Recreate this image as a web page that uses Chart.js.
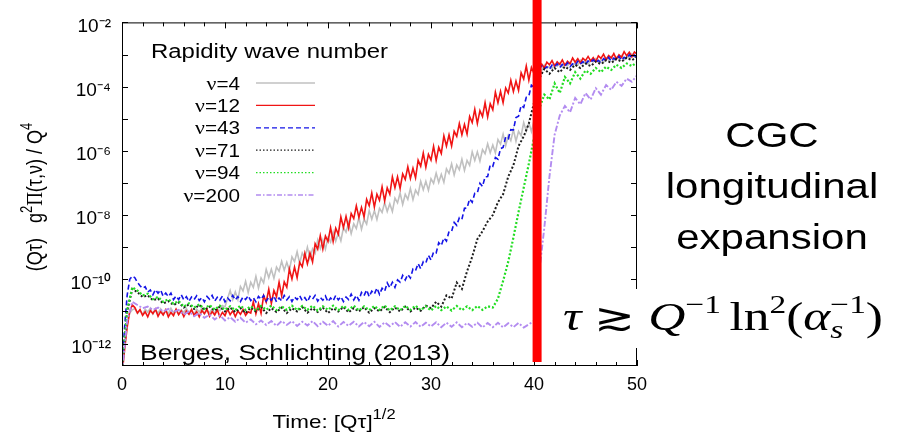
<!DOCTYPE html>
<html><head><meta charset="utf-8">
<script src="https://cdn.jsdelivr.net/npm/chart.js@4"></script>
<style>html,body{margin:0;padding:0;background:#fff;}canvas{display:block}</style>
</head><body>
<canvas id="c" width="898" height="436"></canvas>
<script>
// time axis [Q tau]^(1/2): fine sampling (used for nu=4, 12, 43)
const tauFine = [0,0.25,0.5,0.75,1,1.25,1.5,1.75,2,2.25,
 2.5,2.75,3,3.25,3.5,3.75,4,4.25,4.5,4.75,
 5,5.25,5.5,5.75,6,6.25,6.5,6.75,7,7.25,
 7.5,7.75,8,8.25,8.5,8.75,9,9.25,9.5,9.75,
 10,10.25,10.5,10.75,11,11.25,11.5,11.75,12,12.25,
 12.5,12.75,13,13.25,13.5,13.75,14,14.25,14.5,14.75,
 15,15.25,15.5,15.75,16,16.25,16.5,16.75,17,17.25,
 17.5,17.75,18,18.25,18.5,18.75,19,19.25,19.5,19.75,
 20,20.25,20.5,20.75,21,21.25,21.5,21.75,22,22.25,
 22.5,22.75,23,23.25,23.5,23.75,24,24.25,24.5,24.75,
 25,25.25,25.5,25.75,26,26.25,26.5,26.75,27,27.25,
 27.5,27.75,28,28.25,28.5,28.75,29,29.25,29.5,29.75,
 30,30.25,30.5,30.75,31,31.25,31.5,31.75,32,32.25,
 32.5,32.75,33,33.25,33.5,33.75,34,34.25,34.5,34.75,
 35,35.25,35.5,35.75,36,36.25,36.5,36.75,37,37.25,
 37.5,37.75,38,38.25,38.5,38.75,39,39.25,39.5,39.75,
 40,40.25,40.5,40.75,41,41.25,41.5,41.75,42,42.25,
 42.5,42.75,43,43.25,43.5,43.75,44,44.25,44.5,44.75,
 45,45.25,45.5,45.75,46,46.25,46.5,46.75,47,47.25,
 47.5,47.75,48,48.25,48.5,48.75,49,49.25,49.5,49.75,
 50];
// coarser sampling (used for nu=71, 94, 200)
const tau = [0,0.5,1,1.5,2,2.5,3,3.5,4,4.5,
 5,5.5,6,6.5,7,7.5,8,8.5,9,9.5,
 10,10.5,11,11.5,12,12.5,13,13.5,14,14.5,
 15,15.5,16,16.5,17,17.5,18,18.5,19,19.5,
 20,20.5,21,21.5,22,22.5,23,23.5,24,24.5,
 25,25.5,26,26.5,27,27.5,28,28.5,29,29.5,
 30,30.5,31,31.5,32,32.5,33,33.5,34,34.5,
 35,35.5,36,36.5,37,37.5,38,38.5,39,39.5,
 40,40.5,41,41.5,42,42.5,43,43.5,44,44.5,
 45,45.5,46,46.5,47,47.5,48,48.5,49,49.5,50];

// log10 of (Q tau) g^2 Pi(tau,nu) / Q^4
const nu4Log = [-12.9,-12.0,-11.4,-11.05,-10.95,-10.91,-11.06,-10.97,-11.10,-10.93,
 -11.02,-10.90,-11.08,-10.96,-11.05,-10.92,-11.10,-10.98,-11.07,-10.90,
 -11.04,-10.94,-11.09,-10.95,-11.03,-10.91,-11.06,-10.97,-11.10,-10.93,
 -11.02,-10.90,-11.08,-10.96,-11.05,-10.92,-11.06,-10.94,-10.98,-10.82,
 -10.86,-10.60,-10.35,-10.63,-10.39,-10.63,-10.22,-10.36,-10.06,-10.41,
 -10.09,-10.25,-9.91,-10.27,-9.96,-10.11,-9.69,-9.95,-9.69,-9.97,
 -9.62,-9.75,-9.44,-9.72,-9.47,-9.72,-9.30,-9.45,-9.14,-9.50,
 -9.18,-9.33,-9.00,-9.35,-9.05,-9.19,-8.78,-9.04,-8.77,-9.06,
 -8.70,-8.84,-8.52,-8.81,-8.56,-8.80,-8.39,-8.53,-8.23,-8.58,
 -8.27,-8.42,-8.08,-8.44,-8.13,-8.28,-7.86,-8.13,-7.86,-8.14,
 -7.79,-7.92,-7.61,-7.89,-7.65,-7.89,-7.47,-7.62,-7.31,-7.67,
 -7.35,-7.51,-7.17,-7.52,-7.22,-7.36,-6.95,-7.21,-6.95,-7.23,
 -6.87,-7.01,-6.69,-6.98,-6.73,-6.98,-6.56,-6.70,-6.40,-6.75,
 -6.44,-6.59,-6.26,-6.61,-6.30,-6.45,-6.03,-6.30,-6.03,-6.32,
 -5.96,-6.09,-5.78,-6.06,-5.82,-6.06,-5.65,-5.79,-5.48,-5.84,
 -5.52,-5.68,-5.34,-5.70,-5.39,-5.53,-5.12,-5.38,-5.12,-5.40,
 -5.05,-4.6,-3.9,-3.5,-3.33,-3.44,-3.36,-3.45,-3.30,-3.37,
 -3.26,-3.39,-3.29,-3.35,-3.24,-3.37,-3.26,-3.33,-3.18,-3.28,
 -3.19,-3.30,-3.18,-3.23,-3.13,-3.24,-3.16,-3.25,-3.10,-3.17,
 -3.06,-3.19,-3.09,-3.15,-3.04,-3.17,-3.06,-3.13,-2.98,-3.08,
 -2.99];
const nu12Log = [-13.0,-12.2,-11.5,-11.0,-10.8,-10.88,-11.05,-10.94,-11.12,-11.01,
 -11.17,-10.97,-11.07,-10.93,-11.15,-11.00,-11.11,-10.95,-11.17,-11.03,
 -11.13,-10.93,-11.10,-10.98,-11.16,-10.99,-11.09,-10.94,-11.12,-11.01,
 -11.17,-10.97,-11.07,-10.93,-11.15,-11.00,-11.11,-10.95,-11.17,-11.03,
 -11.13,-10.93,-11.10,-10.98,-11.16,-10.99,-11.09,-10.94,-11.12,-11.01,
 -11.05,-10.70,-11.07,-10.76,-11.06,-10.51,-10.71,-10.31,-10.75,-10.35,
 -10.54,-10.09,-10.51,-10.08,-10.25,-9.68,-9.99,-9.62,-9.95,-9.47,
 -9.61,-9.19,-9.52,-9.18,-9.46,-8.89,-9.06,-8.64,-9.06,-8.65,
 -8.82,-8.39,-8.82,-8.41,-8.60,-8.06,-8.39,-8.04,-8.40,-7.95,
 -8.11,-7.71,-8.07,-7.76,-8.06,-7.51,-7.71,-7.31,-7.75,-7.35,
 -7.54,-7.12,-7.56,-7.15,-7.35,-6.81,-7.15,-6.81,-7.17,-6.72,
 -6.89,-6.50,-6.86,-6.54,-6.84,-6.29,-6.48,-6.07,-6.51,-6.11,
 -6.29,-5.86,-6.30,-5.89,-6.08,-5.53,-5.85,-5.50,-5.85,-5.39,
 -5.55,-5.15,-5.50,-5.18,-5.48,-4.93,-5.12,-4.71,-5.15,-4.75,
 -4.93,-4.50,-4.94,-4.53,-4.72,-4.17,-4.50,-4.15,-4.50,-4.04,
 -4.20,-3.80,-4.15,-3.83,-4.12,-3.57,-3.76,-3.36,-3.80,-3.40,
 -3.59,-3.26,-3.40,-3.30,-3.42,-3.24,-3.32,-3.19,-3.36,-3.23,
 -3.31,-3.17,-3.34,-3.21,-3.29,-3.11,-3.24,-3.13,-3.27,-3.12,
 -3.19,-3.06,-3.20,-3.10,-3.22,-3.04,-3.12,-2.99,-3.16,-3.03,
 -3.11,-2.97,-3.14,-3.01,-3.09,-2.91,-3.04,-2.93,-3.07,-2.92,
 -2.99];
const nu43Log = [-12.8,-11.5,-10.5,-10.0,-9.9,-9.95,-10.1,-10.2,-10.28,-10.23,
 -10.40,-10.33,-10.48,-10.32,-10.43,-10.33,-10.53,-10.43,-10.54,-10.43,
 -10.63,-10.52,-10.63,-10.48,-10.64,-10.54,-10.69,-10.55,-10.63,-10.51,
 -10.66,-10.57,-10.70,-10.53,-10.62,-10.50,-10.68,-10.56,-10.65,-10.52,
 -10.70,-10.58,-10.67,-10.50,-10.64,-10.54,-10.69,-10.55,-10.63,-10.51,
 -10.66,-10.57,-10.70,-10.53,-10.62,-10.50,-10.68,-10.56,-10.65,-10.52,
 -10.70,-10.58,-10.67,-10.50,-10.64,-10.54,-10.69,-10.55,-10.63,-10.51,
 -10.66,-10.57,-10.70,-10.53,-10.62,-10.50,-10.68,-10.56,-10.65,-10.52,
 -10.70,-10.58,-10.67,-10.50,-10.64,-10.54,-10.69,-10.55,-10.63,-10.46,
 -10.64,-10.50,-10.65,-10.41,-10.51,-10.33,-10.54,-10.37,-10.46,-10.27,
 -10.47,-10.28,-10.37,-10.11,-10.26,-10.09,-10.25,-10.02,-10.09,-9.88,
 -10.02,-9.85,-9.96,-9.68,-9.73,-9.51,-9.67,-9.45,-9.49,-9.25,
 -9.40,-9.15,-9.18,-8.86,-8.95,-8.71,-8.81,-8.51,-8.51,-8.23,
 -8.32,-8.08,-8.13,-7.79,-7.78,-7.50,-7.60,-7.32,-7.31,-7.01,
 -7.11,-6.81,-6.80,-6.44,-6.48,-6.21,-6.26,-5.93,-5.89,-5.57,
 -5.62,-5.34,-5.35,-4.96,-4.92,-4.59,-4.65,-4.33,-4.29,-3.95,
 -4.01,-3.6,-3.45,-3.36,-3.45,-3.38,-3.46,-3.33,-3.38,-3.29,
 -3.41,-3.31,-3.37,-3.26,-3.38,-3.29,-3.34,-3.21,-3.30,-3.22,
 -3.31,-3.20,-3.25,-3.16,-3.25,-3.18,-3.26,-3.13,-3.18,-3.09,
 -3.21,-3.11,-3.17,-3.06,-3.18,-3.09,-3.14,-3.01,-3.10,-3.02,
 -3.11];
const nu71Log = [-12.8,-11.0,-10.3,-10.4,-10.55,-10.5,-10.65,-10.6,-10.75,-10.68,
 -10.8,-10.72,-10.88,-10.78,-10.92,-10.8,-10.95,-10.85,-10.98,-10.85,
 -11.0,-10.88,-11.02,-10.9,-11.05,-10.88,-11.0,-10.86,-11.05,-10.9,
 -11.02,-10.88,-11.05,-10.9,-11.0,-10.86,-11.04,-10.9,-11.02,-10.88,
 -11.05,-10.9,-11.0,-10.86,-11.03,-10.9,-11.0,-10.87,-11.04,-10.9,
 -11.0,-10.86,-11.02,-10.88,-11.0,-10.85,-11.0,-10.88,-10.98,-10.82,
 -10.9,-10.7,-10.85,-10.5,-10.6,-10.1,-10.3,-9.75,-9.3,-8.75,
 -8.5,-8.2,-8.0,-7.6,-7.35,-6.8,-6.45,-5.85,-5.55,-5.15,
 -4.5,-3.75,-3.45,-3.6,-3.42,-3.55,-3.38,-3.48,-3.32,-3.42,
 -3.28,-3.36,-3.22,-3.3,-3.18,-3.26,-3.14,-3.22,-3.1,-3.18,-3.08];
const nu94Log = [-12.8,-10.95,-10.25,-10.35,-10.5,-10.45,-10.62,-10.55,-10.7,-10.62,
 -10.76,-10.68,-10.85,-10.75,-10.88,-10.78,-10.92,-10.8,-10.94,-10.82,
 -10.95,-10.84,-10.96,-10.82,-10.95,-10.84,-10.97,-10.83,-10.95,-10.82,
 -10.96,-10.84,-10.95,-10.82,-10.96,-10.83,-10.95,-10.82,-10.97,-10.84,
 -10.95,-10.82,-10.96,-10.83,-10.95,-10.82,-10.97,-10.84,-10.96,-10.83,
 -10.95,-10.82,-10.97,-10.84,-10.96,-10.83,-10.95,-10.82,-10.96,-10.84,
 -10.97,-10.83,-10.96,-10.84,-10.97,-10.83,-10.96,-10.84,-10.96,-10.83,
 -10.95,-10.84,-10.88,-10.6,-10.05,-9.45,-8.7,-7.9,-7.15,-6.4,
 -5.6,-4.7,-4.25,-4.4,-3.9,-4.2,-3.7,-3.9,-3.55,-3.75,
 -3.5,-3.6,-3.42,-3.55,-3.38,-3.48,-3.32,-3.42,-3.28,-3.36,-3.24];
const nu200Log = [-12.9,-11.3,-10.7,-10.8,-10.9,-10.85,-10.95,-10.88,-11.0,-10.92,
 -11.02,-10.95,-11.1,-11.0,-11.15,-11.05,-11.2,-11.1,-11.25,-11.12,
 -11.28,-11.18,-11.32,-11.2,-11.35,-11.25,-11.4,-11.28,-11.42,-11.3,
 -11.45,-11.3,-11.42,-11.3,-11.45,-11.32,-11.44,-11.3,-11.46,-11.32,
 -11.45,-11.3,-11.47,-11.33,-11.45,-11.32,-11.47,-11.33,-11.46,-11.32,
 -11.48,-11.34,-11.46,-11.33,-11.48,-11.34,-11.47,-11.33,-11.48,-11.35,
 -11.47,-11.34,-11.49,-11.35,-11.48,-11.34,-11.49,-11.36,-11.48,-11.35,
 -11.5,-11.36,-11.49,-11.35,-11.5,-11.37,-11.49,-11.36,-11.5,-11.4,
 -11.3,-9.8,-8.4,-6.8,-5.5,-4.9,-4.6,-4.8,-4.35,-4.55,
 -4.2,-4.4,-4.05,-4.25,-3.95,-4.1,-3.85,-3.98,-3.75,-3.85,-3.65];

const seriesNames = ['4','12','43','71','94','200'];
const seriesLogs = [nu4Log, nu12Log, nu43Log, nu71Log, nu94Log, nu200Log];
const seriesTimes = [tauFine, tauFine, tauFine, tau, tau, tau];

const xTickValues = [0,10,20,30,40,50];
const xTickLabels = ['0','10','20','30','40','50'];
const xMinorTickValues = [2,4,6,8,12,14,16,18,22,24,26,28,32,34,36,38,42,44,46,48];
const yTickValues = [1e-12,1e-11,1e-10,1e-9,1e-8,1e-7,1e-6,1e-5,1e-4,1e-3,1e-2];
const yTickLabels = ['10⁻¹²','','10⁻¹⁰','','10⁻⁸','','10⁻⁶','','10⁻⁴','','10⁻²'];
const redLineX = 40.3;

const SANS = '"Liberation Sans", Arial, sans-serif';
const SERIF = '"Liberation Serif", "Times New Roman", serif';

const styles = [
  {c:'#c0c0c0', d:[], w:1.6, ld:[]},
  {c:'#f01414', d:[], w:1.6, ld:[]},
  {c:'#1414e6', d:[5,3], w:1.6, ld:[5,3]},
  {c:'#1e1e1e', d:[2,2], w:2, ld:[1.5,2]},
  {c:'#22dd22', d:[2,2], w:2.2, ld:[1.5,2]},
  {c:'#b38cf0', d:[6,2,2,2], w:1.9, ld:[5,2,1.5,2]}
];

const datasets = seriesLogs.map((arr, k) => ({
  label: 'ν=' + seriesNames[k],
  data: seriesTimes[k].map((t, i) => ({x: t, y: Math.pow(10, arr[i])})),
  borderColor: styles[k].c,
  borderDash: styles[k].d,
  borderWidth: styles[k].w,
  pointRadius: 0,
  fill: false,
  tension: 0,
  order: 6 - k
}));

function layoutRuns(ctx, list) {
  let x = 0, pend = 0; const pos = [];
  list.forEach(r => {
    ctx.font = r.f; const w = ctx.measureText(r.t).width; pos.push(x);
    if (r.stack) { pend = Math.max(pend, w); } else { x += Math.max(w, pend); pend = 0; }
  });
  return {pos, width: x + pend};
}
function drawRuns(ctx, list, x, y, align, sx, sy, targetW) {
  const L = layoutRuns(ctx, list);
  if (targetW) sx = targetW / L.width;
  const W = L.width * sx;
  const x0 = align === 'center' ? x - W / 2 : align === 'right' ? x - W : x;
  ctx.save();
  ctx.translate(x0, y); ctx.scale(sx, sy || 1);
  ctx.textBaseline = 'alphabetic'; ctx.textAlign = 'left';
  list.forEach((r, i) => { ctx.font = r.f; ctx.fillStyle = r.c || '#000'; ctx.fillText(r.t, L.pos[i], r.dy || 0); });
  ctx.restore();
  return W;
}

const overlay = {
  id: 'overlay',
  afterDatasetsDraw(chart) {
    const {ctx, chartArea: a, scales: {x, y}} = chart;
    ctx.save();
    ctx.strokeStyle = '#000'; ctx.lineWidth = 1; ctx.setLineDash([]);
    ctx.beginPath();
    xTickValues.forEach(v => { const p = Math.round(x.getPixelForValue(v)) + 0.5;
      ctx.moveTo(p, a.bottom); ctx.lineTo(p, a.bottom - 6); ctx.moveTo(p, a.top); ctx.lineTo(p, a.top + 6); });
    xMinorTickValues.forEach(v => { const p = Math.round(x.getPixelForValue(v)) + 0.5;
      ctx.moveTo(p, a.bottom); ctx.lineTo(p, a.bottom - 4); ctx.moveTo(p, a.top); ctx.lineTo(p, a.top + 4); });
    yTickValues.forEach(v => { const p = Math.round(y.getPixelForValue(v)) + 0.5;
      ctx.moveTo(a.left, p); ctx.lineTo(a.left + 6, p); ctx.moveTo(a.right, p); ctx.lineTo(a.right - 6, p); });
    ctx.stroke();
    ctx.strokeRect(a.left + 0.5, a.top + 0.5, a.right - a.left - 1, a.bottom - a.top - 1);
    ctx.restore();
  },
  afterDraw(chart) {
    const {ctx, scales: {x}} = chart;
    ctx.save();
    // legend
    drawRuns(ctx, [{t: 'Rapidity wave number', f: '20px ' + SANS}], 151, 58, 'left', 1, 1, 237);
    seriesNames.forEach((n, k) => {
      const cy = 82.5 + k * 22.4;
      drawRuns(ctx, [{t: 'ν', f: '19px ' + SERIF}, {t: '=' + n, f: '18px ' + SANS}], 240, cy + 7, 'right', 1.15);
      ctx.save();
      ctx.strokeStyle = styles[k].c; ctx.lineWidth = 1.3; ctx.setLineDash(styles[k].ld);
      ctx.beginPath(); ctx.moveTo(256, cy + 0.5); ctx.lineTo(315, cy + 0.5); ctx.stroke();
      ctx.restore();
    });
    // citation
    drawRuns(ctx, [{t: 'Berges, Schlichting (2013)', f: '22px ' + SANS}], 140, 360, 'left', 1, 1, 310);
    // red vertical marker
    const rx = x.getPixelForValue(redLineX);
    ctx.fillStyle = '#ff0000';
    ctx.fillRect(rx - 4.5, 0, 9, 362);
    // side annotation
    ['CGC', 'longitudinal', 'expansion'].forEach((t, i) => {
      drawRuns(ctx, [{t, f: '35px ' + SANS}], 772, 147 + i * 51, 'center', 1.2);
    });
    // formula
    ctx.fillStyle = '#fff';
    ctx.fillRect(553, 289, 342, 59);
    const FI = 'italic 40px ' + SERIF, FR = '40px ' + SERIF, SR = '26px ' + SERIF, SI = 'italic 26px ' + SERIF;
    drawRuns(ctx, [
      {t: 'τ', f: FI}, {t: ' ', f: FR}, {t: '≳', f: '38px "DejaVu Serif", serif'}, {t: ' ', f: FR},
      {t: 'Q', f: FI}, {t: '−1', f: SR, dy: -17}, {t: ' ', f: SR}, {t: 'ln', f: FR}, {t: '2', f: SR, dy: -17},
      {t: '(', f: FR}, {t: 'α', f: FI}, {t: 's', f: SI, dy: 8, stack: true}, {t: '−1', f: SR, dy: -17}, {t: ')', f: FR}
    ], 563, 330, 'left', 1, 1, 320);
    // x title
    drawRuns(ctx, [{t: 'Time: [Qτ]', f: '19px ' + SANS}, {t: '1/2', f: '14px ' + SANS, dy: -9}], 334, 428, 'center', 1.18);
    // y title (rotated)
    ctx.save();
    ctx.translate(42, 197); ctx.rotate(-Math.PI / 2);
    drawRuns(ctx, [
      {t: '(Qτ)   g', f: '18px ' + SANS}, {t: '2', f: '13px ' + SANS, dy: -8},
      {t: 'Π', f: '19px ' + SERIF}, {t: '(τ,ν) / Q', f: '18px ' + SANS}, {t: '4', f: '13px ' + SANS, dy: -8}
    ], 0, 0, 'center', 1, 1.2);
    ctx.restore();
    ctx.restore();
  }
};

new Chart(document.getElementById('c'), {
  type: 'line',
  data: {datasets},
  options: {
    responsive: false, animation: false, devicePixelRatio: 1,
    layout: {padding: {left: 0, right: 261, top: 17, bottom: 0}},
    plugins: {legend: {display: false}, tooltip: {enabled: false}},
    scales: {
      x: {
        type: 'linear', min: 0, max: 50,
        grid: {display: false, drawTicks: false}, border: {display: false},
        afterBuildTicks: s => { s.ticks = xTickValues.map(v => ({value: v})); },
        ticks: {callback: (v, i) => xTickLabels[i], font: {family: SANS, size: 18}, color: '#000', padding: 8, maxRotation: 0, autoSkip: false},
        afterFit: s => { s.height = 70; }
      },
      y: {
        type: 'logarithmic', min: 2e-13, max: 1e-2,
        grid: {display: false, drawTicks: false}, border: {display: false},
        afterBuildTicks: s => { s.ticks = yTickValues.map(v => ({value: v})); },
        ticks: {callback: (v, i) => yTickLabels[i], font: {family: SANS, size: 19}, color: '#000', padding: 11, autoSkip: false, labelOffset: 4},
        afterFit: s => { s.width = 122; }
      }
    }
  },
  plugins: [overlay]
});
</script>
</body></html>
